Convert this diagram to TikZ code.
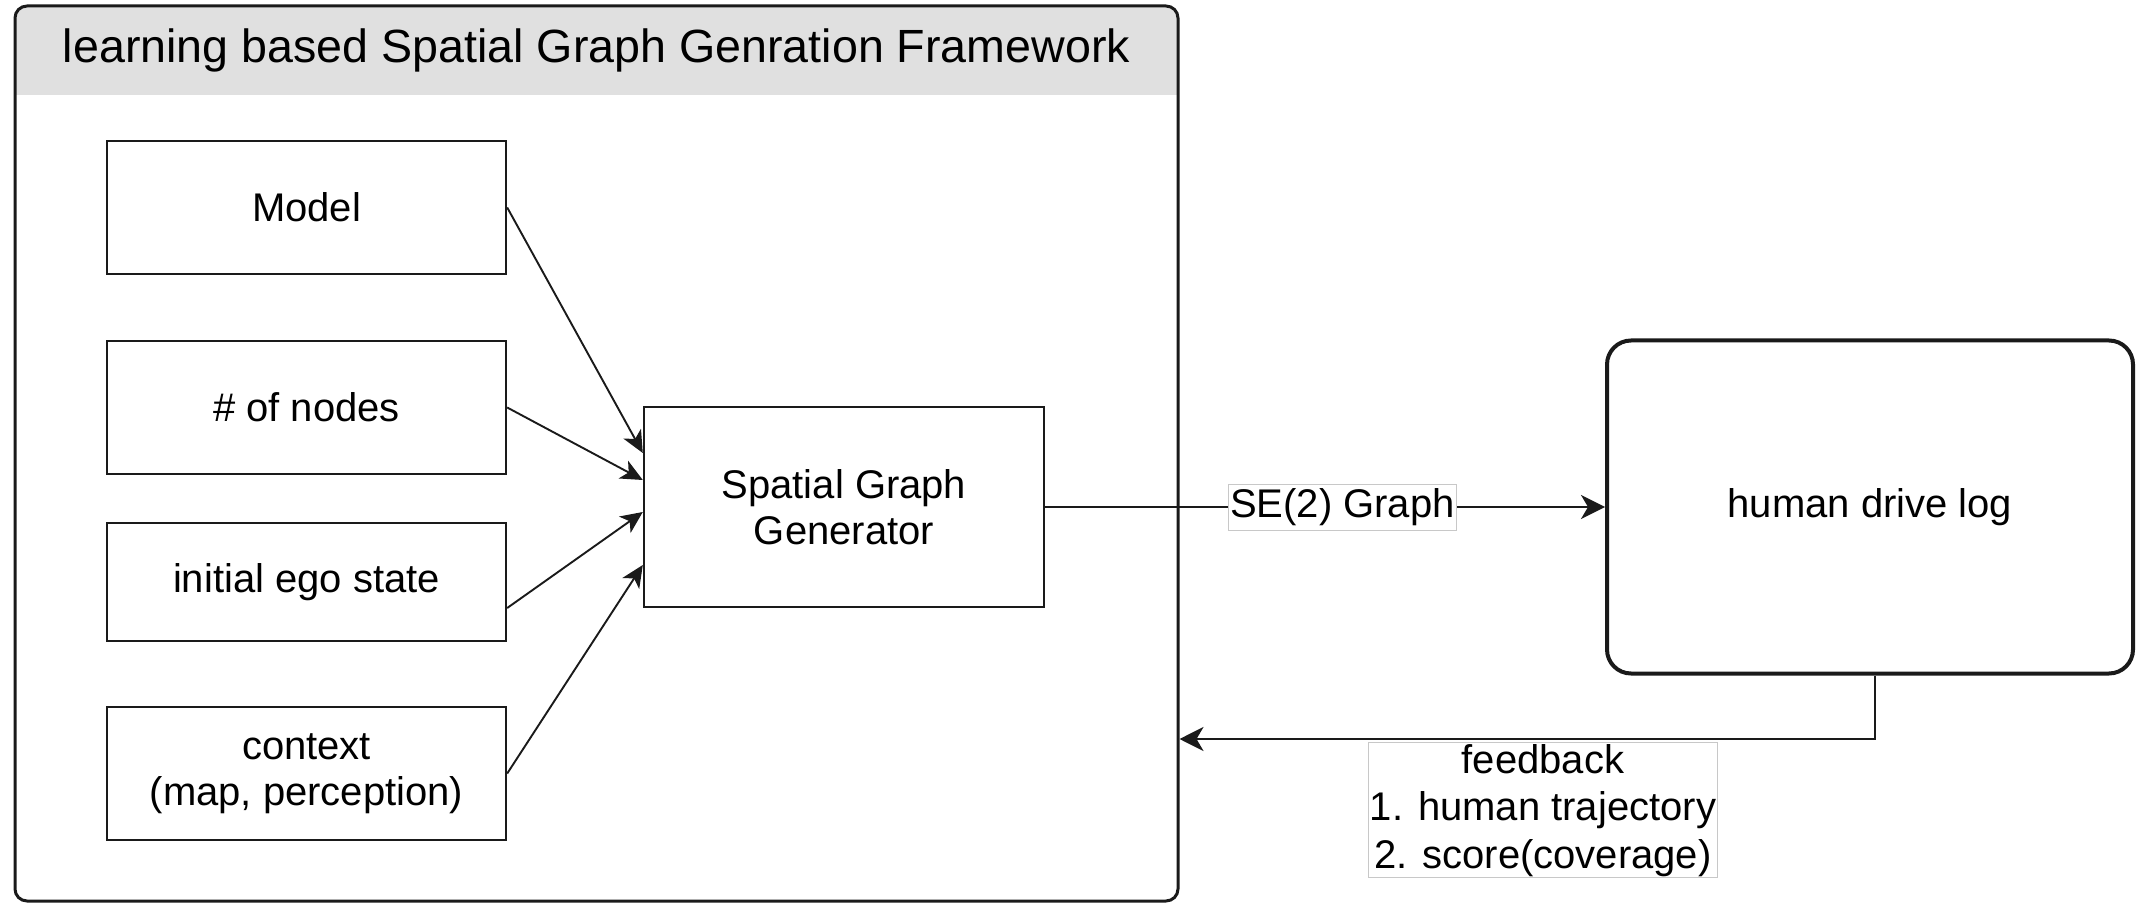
\documentclass[tikz,border=0pt]{standalone}
\usepackage{fontspec}
\setmainfont{Liberation Sans}
\usetikzlibrary{arrows.meta}
\definecolor{hdr}{HTML}{E0E0E0}
\definecolor{lblline}{HTML}{C8C8C8}
\definecolor{ink}{HTML}{1A1A1A}
\begin{document}
\begin{tikzpicture}[x=0.5pt,y=-0.5pt,
  box/.style={draw=ink, line width=1.2pt, fill=white, inner sep=0pt,
    minimum width=199.5pt, minimum height=66.5pt,
    font=\fontsize{20pt}{23pt}\selectfont, align=center},
  feed/.style={-{Stealth[length=11pt,width=10pt,inset=3pt]}, line width=0.95pt, draw=ink},
  conn/.style={-{Stealth[length=12pt,width=12pt,inset=3.5pt]}, line width=1.1pt, draw=ink},
  lbl/.style={fill=white, draw=lblline, line width=0.5pt, inner sep=0.8pt,
    font=\fontsize{20pt}{23.75pt}\selectfont, align=center}
]
\useasboundingbox (0,0) rectangle (2136,903);
% container header
\fill[hdr, rounded corners=6pt] (15,95) -- (15,6) -- (1178,6) -- (1178,95);
\node[draw=ink, line width=1.5pt, rounded corners=6pt, minimum width=581.5pt,
  minimum height=447.5pt, inner sep=0pt] (frame) at (596.5,453.5) {};
\node[font=\fontsize{23.3pt}{28pt}\selectfont, inner sep=0pt] (title) at (596.5,50)
  {learning based Spatial Graph Genration Framework};
% input boxes
\node[box] (model) at (306.5,207.5) {Model};
\node[box] (nnodes) at (306.5,407.5) {\# of nodes};
\node[box, minimum height=59pt] (ego) at (306.5,582) {initial ego state};
\node[box] (ctx) at (306.5,773.5) {context\\(map, perception)};
\node[box, minimum width=200pt, minimum height=100pt] (sgg) at (844,507) {Spatial Graph\\Generator};
\node[box, line width=2pt, rounded corners=12pt, minimum width=263pt,
  minimum height=166.5pt] (hdl) at (1870,507) {human drive log};
% input arrows
\draw[feed] (model.east) -- ([yshift=27pt]sgg.west);
\draw[feed] (nnodes.east) -- ([yshift=13.5pt]sgg.west);
\draw[feed] ([yshift=-13pt]ego.east) -- ([yshift=-2.5pt]sgg.west);
\draw[feed] (ctx.east) -- ([yshift=-29pt]sgg.west);
% SE(2) graph
\draw[conn] (sgg.east) -- node[lbl, pos=0.531, minimum height=23pt] (se2) {SE(2) Graph} (hdl.west);
% feedback
\coordinate (fbend) at ([yshift=-142.75pt]frame.east);
\draw[conn] ([xshift=2.5pt]hdl.south) |- (fbend);
\node[lbl, anchor=north] (fb) at (1543,742) {feedback\\1. human trajectory\\2. score(coverage)};
\end{tikzpicture}
\end{document}
